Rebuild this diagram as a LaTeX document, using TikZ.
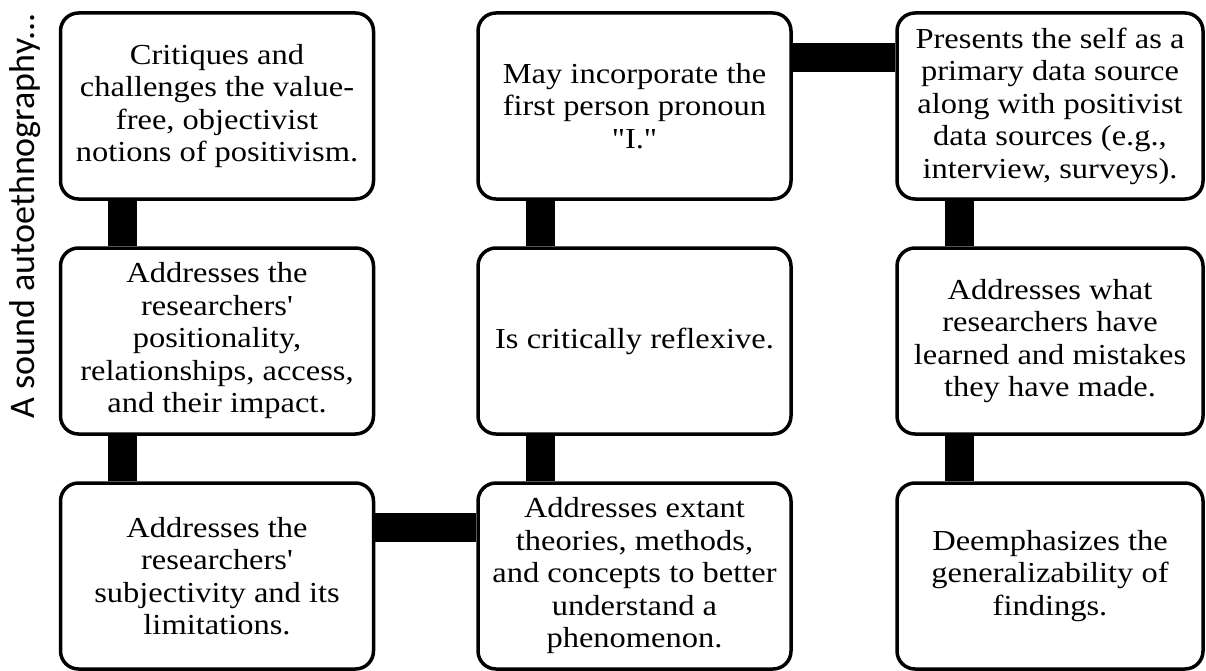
\documentclass[tikz,border=0pt]{standalone}
\usepackage{fontspec}
\setmainfont{Liberation Serif}[Ligatures=TeXOff, FakeStretch=1.12]
\newfontfamily\sidefont{Carlito}
\usepackage{tikz}
\usetikzlibrary{positioning, calc}

\begin{document}
\begin{tikzpicture}[x=1pt, y=-1pt,
          bx/.style={draw, rounded corners=18pt, line width=3.5pt, fill=white, minimum width=#1, minimum height=186pt, inner sep=0pt, align=center, font=\fontsize{29}{32.5}\selectfont},
          bx/.default=313pt,
          lnk/.style={line width=29pt},
        ]
        \useasboundingbox (0,0) rectangle (1206,671);
        \node[font=\sidefont\fontsize{36}{40}\selectfont, rotate=90] (lbl) at (25,216) {A sound autoethnography...};
        \node[bx] (crit)  at (217,106) {Critiques and\\challenges the value-\\free, objectivist\\notions of positivism.};
        \node[bx] (posit) at (217,341) {Addresses the\\researchers'\\positionality,\\relationships, access,\\and their impact.};
        \node[bx] (subj)  at (217,576) {Addresses the\\researchers'\\subjectivity and its\\limitations.};
        \node[bx] (pron)  at (634.5,106) {May incorporate the\\first person pronoun\\"I."};
        \node[bx] (refl)  at (634.5,341) {Is critically reflexive.};
        \node[bx] (theo)  at (634.5,576) {Addresses extant\\theories, methods,\\and concepts to better\\understand a\\phenomenon.};
        \node[bx=306pt] (self)  at (1050,106) {Presents the self as a\\primary data source\\along with positivist\\data sources (e.g.,\\interview, surveys).};
        \node[bx=306pt] (learn) at (1050,341) {Addresses what\\researchers have\\learned and mistakes\\they have made.};
        \node[bx=306pt] (gen)   at (1050,576) {Deemphasizes the\\generalizability of\\findings.};
        % links run down column 1, across, up column 2, across, down column 3
        \draw[lnk] ([xshift=64pt]crit.south west) -- ([xshift=64pt]posit.north west);
        \draw[lnk] ([xshift=64pt]posit.south west) -- ([xshift=64pt]subj.north west);
        \draw[lnk] ([yshift=-46pt]subj.north east) -- ([yshift=-46pt]theo.north west);
        \draw[lnk] ([xshift=64pt]theo.north west) -- ([xshift=64pt]refl.south west);
        \draw[lnk] ([xshift=64pt]refl.north west) -- ([xshift=64pt]pron.south west);
        \draw[lnk] ([yshift=-46pt]pron.north east) -- ([yshift=-46pt]self.north west);
        \draw[lnk] ([xshift=64pt]self.south west) -- ([xshift=64pt]learn.north west);
        \draw[lnk] ([xshift=64pt]learn.south west) -- ([xshift=64pt]gen.north west);
        \end{tikzpicture}
\end{document}
